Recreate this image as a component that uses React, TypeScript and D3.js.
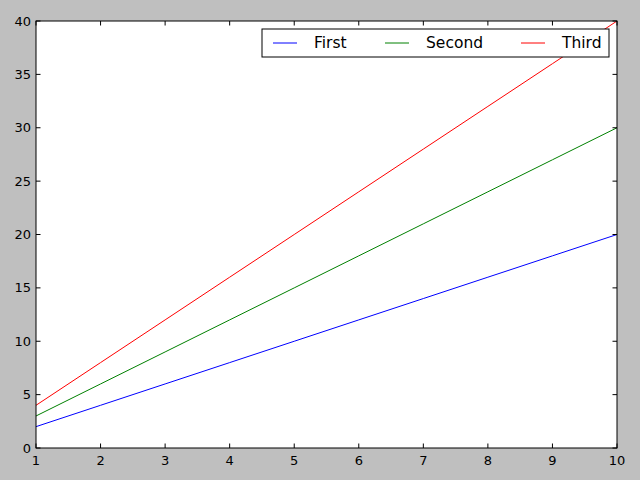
import React from "react";
import * as d3 from "d3";

const xs = [1, 2, 3, 4, 5, 6, 7, 8, 9, 10];
const first = [2, 4, 6, 8, 10, 12, 14, 16, 18, 20];
const second = [3, 6, 9, 12, 15, 18, 21, 24, 27, 30];
const third = [4, 8, 12, 16, 20, 24, 28, 32, 36, 40];
const seriesNames = ["First", "Second", "Third"];
const seriesColors = ["#0000ff", "#008000", "#ff0000"];
const xTicks = [1, 2, 3, 4, 5, 6, 7, 8, 9, 10];
const yTicks = [0, 5, 10, 15, 20, 25, 30, 35, 40];

const W = 640;
const H = 480;
const M = { left: 36, right: 617, top: 21, bottom: 448 };
const FONT = "DejaVu Sans, sans-serif";

export default function App() {
  const x = d3.scaleLinear().domain([1, 10]).range([M.left, M.right]);
  const y = d3.scaleLinear().domain([0, 40]).range([M.bottom, M.top]);
  const line = d3
    .line<[number, number]>()
    .x((d) => x(d[0]))
    .y((d) => y(d[1]));
  const all = [first, second, third];
  const tl = 4.5;

  const legendX = 262;
  const legendY = 29;
  const legendW = 347;
  const legendH = 28;
  const itemOffsets = [0, 112, 248];

  return (
    <svg
      width={W}
      height={H}
      style={{ position: "absolute", left: 0, top: 0, display: "block" }}
    >
      <rect x={0} y={0} width={W} height={H} fill="#bfbfbf" />
      <rect
        x={M.left}
        y={M.top}
        width={M.right - M.left}
        height={M.bottom - M.top}
        fill="#ffffff"
      />
      <defs>
        <clipPath id="plotclip">
          <rect
            x={M.left}
            y={M.top}
            width={M.right - M.left}
            height={M.bottom - M.top}
          />
        </clipPath>
      </defs>
      <g clipPath="url(#plotclip)">
        {all.map((vals, i) => (
          <path
            key={seriesNames[i]}
            d={line(xs.map((v, j) => [v, vals[j]] as [number, number])) || ""}
            fill="none"
            stroke={seriesColors[i]}
            strokeWidth={1}
          />
        ))}
      </g>
      {/* ticks on all four sides, pointing inward */}
      <g stroke="#000" strokeWidth={1}>
        {xTicks.map((t) => (
          <g key={"xt" + t}>
            <line x1={x(t)} x2={x(t)} y1={M.bottom} y2={M.bottom - tl} />
            <line x1={x(t)} x2={x(t)} y1={M.top} y2={M.top + tl} />
          </g>
        ))}
        {yTicks.map((t) => (
          <g key={"yt" + t}>
            <line x1={M.left} x2={M.left + tl} y1={y(t)} y2={y(t)} />
            <line x1={M.right} x2={M.right - tl} y1={y(t)} y2={y(t)} />
          </g>
        ))}
      </g>
      <rect
        x={M.left}
        y={M.top}
        width={M.right - M.left}
        height={M.bottom - M.top}
        fill="none"
        stroke="#000"
        strokeWidth={1}
      />
      <g fontFamily={FONT} fontSize={13} fill="#000">
        {xTicks.map((t) => (
          <text key={"xl" + t} x={x(t)} y={M.bottom + 17} textAnchor="middle">
            {t}
          </text>
        ))}
        {yTicks.map((t) => (
          <text
            key={"yl" + t}
            x={M.left - 5}
            y={y(t)}
            textAnchor="end"
            dominantBaseline="central"
          >
            {t}
          </text>
        ))}
      </g>
      <g>
        <rect
          x={legendX}
          y={legendY}
          width={legendW}
          height={legendH}
          fill="#fff"
          stroke="#000"
          strokeWidth={1}
        />
        {seriesNames.map((name, i) => {
          const ox = legendX + 11 + itemOffsets[i];
          const cy = legendY + legendH / 2;
          return (
            <g key={"lg" + name}>
              <line
                x1={ox}
                x2={ox + 24}
                y1={cy}
                y2={cy}
                stroke={seriesColors[i]}
                strokeWidth={1}
              />
              <text
                x={ox + 41}
                y={cy}
                dominantBaseline="central"
                fontFamily={FONT}
                fontSize={15.5}
                fill="#000"
              >
                {name}
              </text>
            </g>
          );
        })}
      </g>
    </svg>
  );
}
